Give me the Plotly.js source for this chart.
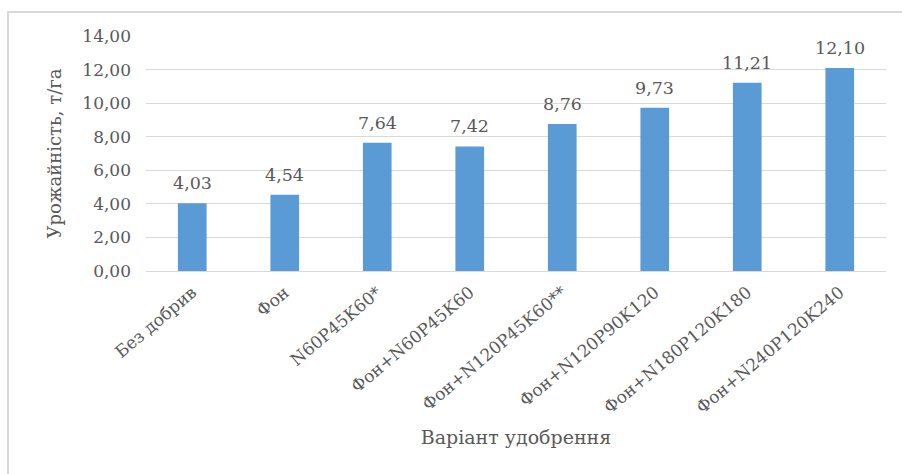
<!DOCTYPE html>
<html>
<head>
<meta charset="utf-8">
<script src="https://cdn.plot.ly/plotly-3.0.1.min.js"></script>
<style>
  html, body { margin: 0; padding: 0; background: #fff; }
  #wrap { position: relative; width: 902px; height: 474px; }
  #chart { width: 902px; height: 474px; }
  #frame { position: absolute; left: 7px; top: 11px; width: 900px; height: 470px;
           border-top: 2px solid #D9D9D9; border-left: 2px solid #D9D9D9; pointer-events: none; }
</style>
</head>
<body>
<div id="wrap">
  <div id="chart"></div>
  <div id="frame"></div>
</div>
<script>
const categories = ["Без добрив", "Фон", "N60P45K60*", "Фон+N60P45K60", "Фон+N120P45K60**",
                    "Фон+N120P90K120", "Фон+N180P120K180", "Фон+N240P120K240"];
const yields = [4.03, 4.54, 7.64, 7.42, 8.76, 9.73, 11.21, 12.10];
const yTicks = [0, 2, 4, 6, 8, 10, 12, 14];
const yTickLabels = ["0,00", "2,00", "4,00", "6,00", "8,00", "10,00", "12,00", "14,00"];
const dataLabels = yields.map(v => v.toFixed(2).replace(".", ","));

const font = "DejaVu Serif";
const grey = "#595959";

const trace = {
  type: "bar",
  x: categories,
  y: yields,
  marker: { color: "#5B9BD5" },
  cliponaxis: false,
  hoverinfo: "none"
};

const labelAnnotations = categories.map((c, i) => ({
  x: c,
  y: yields[i],
  xref: "x",
  yref: "y",
  text: dataLabels[i],
  showarrow: false,
  yanchor: "bottom",
  yshift: 8,
  font: { family: font, size: 17.5, color: grey }
}));

const layout = {
  width: 902,
  height: 474,
  margin: { l: 146, r: 16, t: 36, b: 203 },
  paper_bgcolor: "#ffffff",
  plot_bgcolor: "#ffffff",
  showlegend: false,
  bargap: 0.69,
  font: { family: font, color: grey, size: 17 },
  annotations: labelAnnotations,
  xaxis: {
    type: "category",
    tickangle: -40,
    tickfont: { family: font, size: 17, color: grey },
    showgrid: false,
    showline: true,
    linecolor: "#D9D9D9",
    linewidth: 1,
    ticks: "",
    ticklen: 0,
    ticklabelstandoff: 4,
    title: { text: "Варіант удобрення", font: { family: font, size: 19, color: grey }, standoff: 14 },
    automargin: false
  },
  yaxis: {
    range: [0, 14],
    tickvals: yTicks,
    ticktext: yTickLabels,
    tickfont: { family: font, size: 17, color: grey },
    showgrid: true,
    gridcolor: "#D9D9D9",
    gridwidth: 1,
    zeroline: false,
    showline: false,
    ticks: "",
    ticklabelstandoff: 14,
    title: { text: "Урожайність, т/га", font: { family: font, size: 18, color: grey }, standoff: 16 },
    automargin: false
  }
};

Plotly.newPlot("chart", [trace], layout, { displayModeBar: false, staticPlot: true });
</script>
</body>
</html>
